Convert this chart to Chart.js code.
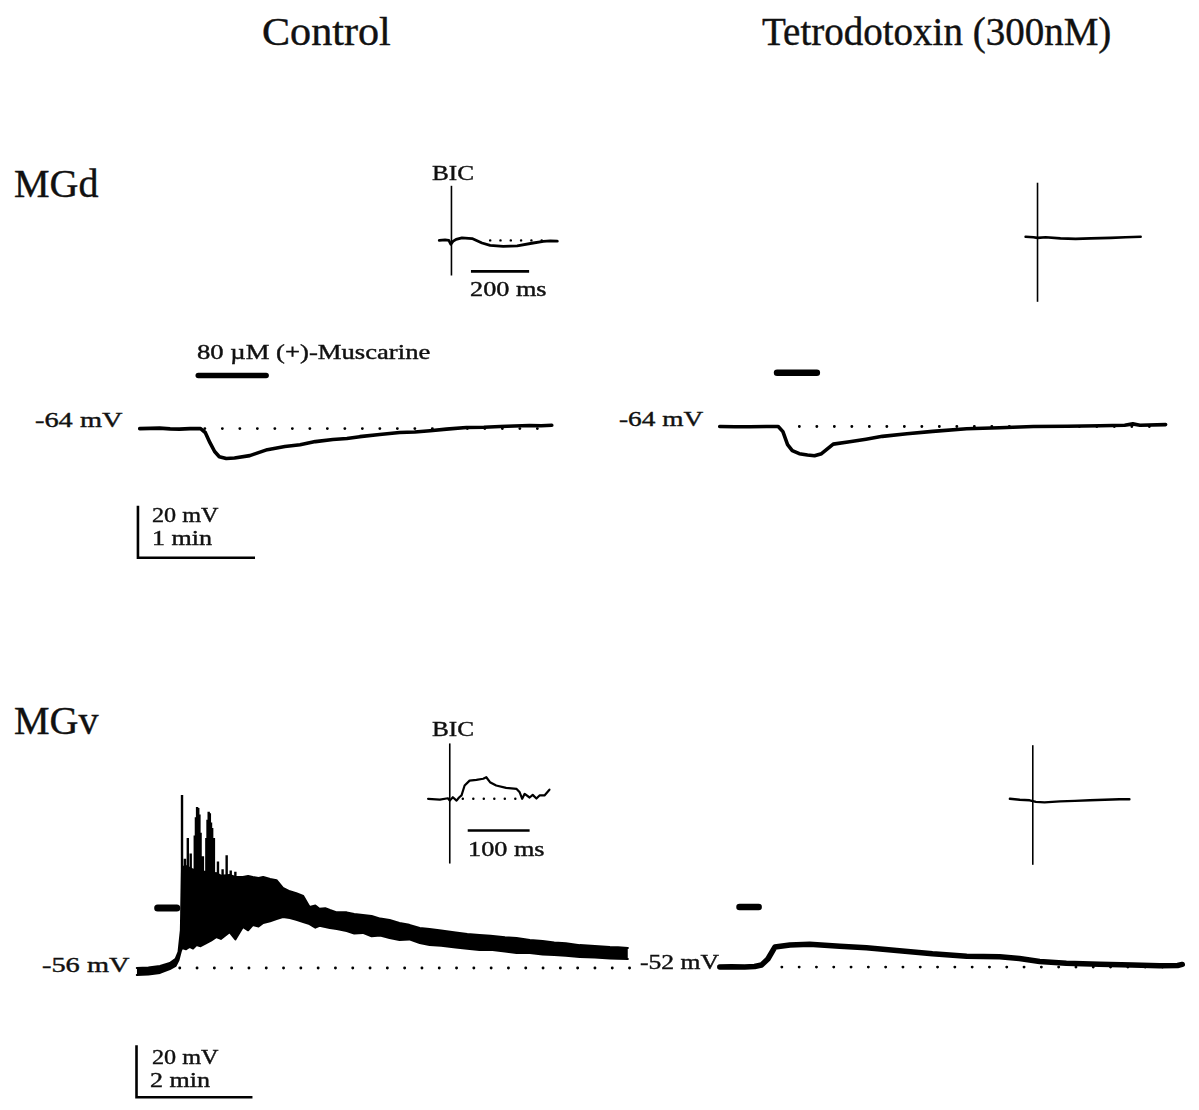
<!DOCTYPE html>
<html>
<head>
<meta charset="utf-8">
<script src="https://cdn.jsdelivr.net/npm/chart.js@4/dist/chart.umd.min.js"></script>
<style>
  html, body { margin: 0; background: #fff; }
  #fig { position: relative; width: 1199px; height: 1110px; overflow: hidden; }
  #fig canvas { position: absolute; }
  .lbl {
    position: absolute; white-space: nowrap; line-height: 1; color: #111;
    font-family: 'Liberation Serif', 'Times New Roman', serif; transform-origin: 0 0;
    -webkit-text-stroke: 0.4px #111;
  }
</style>
</head>
<body>
<div id="fig"></div>
<script>
// ---- recordings (time in min, membrane potential in mV) ----

// MGd, control
const mgdCtrlT  = [0, 0.09, 0.17, 0.26, 0.34, 0.43, 0.52, 0.56, 0.60, 0.64, 0.68, 0.74, 0.81, 0.94, 1.09, 1.24, 1.37, 1.50, 1.65, 1.77, 1.88, 2.05, 2.22, 2.35, 2.48, 2.62, 2.79, 2.94, 3.08, 3.20, 3.33, 3.43, 3.52];
const mgdCtrlVm = [-64.0, -63.9, -63.8, -64.1, -64.2, -64.0, -64.0, -65.5, -69.4, -72.8, -74.8, -75.5, -75.3, -74.4, -72.1, -70.9, -70.2, -69.0, -68.2, -67.8, -67.1, -66.3, -65.5, -65.3, -64.8, -64.2, -63.6, -63.5, -63.2, -63.0, -62.8, -62.9, -62.7];

// MGd, TTX
const mgdTtxT  = [0, 0.13, 0.26, 0.40, 0.50, 0.54, 0.58, 0.62, 0.68, 0.75, 0.81, 0.87, 0.97, 1.11, 1.25, 1.39, 1.60, 1.82, 2.11, 2.39, 2.68, 2.97, 3.25, 3.46, 3.53, 3.59, 3.81];
const mgdTtxVm = [-64.0, -64.1, -64.1, -64.0, -64.0, -66.0, -71.0, -73.3, -74.5, -75.0, -75.3, -74.5, -70.8, -69.9, -68.9, -67.8, -66.8, -65.9, -64.9, -64.5, -64.0, -63.9, -63.7, -63.5, -63.0, -63.5, -63.3];

// MGv, control: firing is drawn as the envelope of the trace plus the tallest spikes
const mgvCtrlT = [0, 0.2, 0.4, 0.57, 0.67, 0.72, 0.76, 0.78, 0.85, 0.91, 0.97, 1.03, 1.10, 1.20, 1.28, 1.37, 1.45, 1.60, 1.70, 1.83, 1.92, 2.00, 2.10, 2.18, 2.30, 2.41, 2.52, 2.64, 2.75, 2.87, 2.98, 3.08, 3.15, 3.25, 3.33, 3.45, 3.62, 3.75, 3.90, 4.05, 4.20, 4.36, 4.53, 4.70, 4.88, 5.05, 5.25, 5.50, 5.70, 5.91, 6.10, 6.35, 6.55, 6.78, 7.00, 7.20, 7.40, 7.64, 7.90, 8.16, 8.30, 8.47];
const mgvCtrlHi = [-56.0, -55.8, -55.2, -54.1, -52.5, -49.8, -41.4, -17.2, -16.8, -17.5, -18.2, -18.0, -18.9, -19.0, -19.8, -19.5, -20.5, -20.2, -21.0, -21.0, -20.6, -21.0, -21.4, -21.0, -21.8, -22.2, -25.2, -26.5, -27.2, -28.3, -32.5, -32.0, -33.2, -33.0, -33.7, -34.6, -34.6, -35.2, -35.6, -36.0, -37.0, -37.5, -38.7, -39.4, -40.6, -41.0, -41.6, -42.3, -42.9, -43.3, -43.6, -44.2, -44.5, -45.2, -45.6, -46.2, -46.5, -47.2, -47.5, -47.9, -48.0, -48.3];
const mgvCtrlLo = [-58.7, -58.5, -57.9, -56.4, -55.2, -52.9, -49.5, -48.3, -48.8, -47.9, -48.5, -47.2, -47.6, -46.4, -45.5, -44.1, -44.8, -42.2, -45.0, -40.2, -41.5, -39.5, -40.0, -38.7, -38.0, -37.2, -36.4, -36.8, -37.5, -38.3, -39.1, -40.5, -39.8, -40.2, -40.6, -41.0, -41.8, -42.7, -42.5, -43.8, -43.5, -44.5, -45.2, -45.0, -46.4, -47.2, -47.4, -48.1, -48.6, -49.1, -49.0, -49.7, -50.2, -50.2, -50.8, -51.0, -51.3, -51.8, -52.0, -52.3, -52.4, -52.5];
const mgvSpikeT    = [0.78, 0.83, 0.88, 0.93, 1.00, 1.02, 1.04, 1.06, 1.08, 1.10, 1.14, 1.20, 1.22, 1.24, 1.26, 1.28, 1.30, 1.33, 1.40, 1.48, 1.55, 1.62, 1.70];
const mgvSpikePeak = [10.5, -14.0, -6.0, -12.0, -5.0, 2.0, 5.9, 5.5, 3.0, -4.0, -13.0, -6.0, 1.0, 4.1, 3.5, 0.0, -2.2, -6.0, -15.0, -18.0, -12.6, -18.5, -19.0];

// MGv, TTX
const mgvTtxT  = [0, 0.2, 0.43, 0.6, 0.72, 0.83, 0.95, 1.21, 1.55, 2.07, 2.53, 3.10, 3.67, 4.26, 4.83, 5.17, 5.52, 5.98, 6.55, 7.12, 7.59, 7.90, 7.98];
const mgvTtxVm = [-52.0, -51.9, -52.0, -51.8, -51.2, -48.9, -44.3, -43.5, -43.2, -44.0, -44.6, -45.7, -46.9, -47.8, -48.0, -48.7, -49.9, -50.5, -50.9, -51.2, -51.5, -51.4, -51.0];

// muscarine application [start, end] in min
const mgdCtrlDrug = [0.50, 1.08];
const mgdTtxDrug  = [0.49, 0.83];
const mgvCtrlDrug = [0.36, 0.69];
const mgvTtxDrug  = [0.34, 0.67];

// ---- evoked responses (time in ms from stimulus, mV from baseline) ----
const mgdCtrlInT  = [-42, -22, -9, -2, 5, 16, 36, 71, 105, 133, 178, 226, 281, 316, 340, 364];
const mgdCtrlInVm = [0, 0.2, 0, -1.5, -0.4, 0.4, 1.0, 0.7, -1.0, -1.9, -2.3, -2.1, -1.0, -0.4, -0.2, -0.3];
const mgdTtxInT   = [-41, -14, 0, 28, 79, 131, 183, 252, 303, 355];
const mgdTtxInVm  = [0, -0.2, -0.4, -0.2, -0.6, -0.8, -0.6, -0.4, -0.2, 0];
const mgvCtrlInT  = [-35, -16, -3, 0, 5, 11, 15, 19, 24, 32, 43, 54, 59, 65, 75, 91, 108, 113, 117, 121, 129, 134, 140, 145, 153, 161];
const mgvCtrlInVm = [0, -0.3, 0.2, -0.7, 0.6, -0.7, 0.5, 1.3, 5.1, 7.0, 7.3, 7.7, 8.3, 6.4, 5.1, 4.2, 3.8, 2.5, 0, 1.9, 0.5, 1.5, 0.1, 1.3, 1.3, 3.5];
const mgvTtxInT   = [-37, -21, -5, 5, 19, 44, 68, 92, 116, 140, 156];
const mgvTtxInVm  = [0.4, 0, -0.2, -0.8, -1.0, -0.6, -0.4, -0.2, 0, 0.2, 0.2];
// stimulus artifact extent [min, max] mV
const mgdCtrlArt = [-13.5, 21];
const mgdTtxArt  = [-25, 20.8];
const mgvCtrlArt = [-24.9, 21.3];
const mgvTtxArt  = [-25, 21];

// ---- drawing ----
const INK = '#000';
const fig = document.getElementById('fig');

const pts = (xs, ys) => xs.map((x, i) => ({ x, y: ys[i] }));

function line(data, width, extra = {}) {
  return {
    data, borderColor: INK, borderWidth: width, pointRadius: 0, fill: false, tension: 0,
    borderCapStyle: 'round', borderJoinStyle: 'round', order: 1, ...extra,
  };
}

/** dotted resting level */
function dots(from, to, level, gap, size = 2.8) {
  return line([{ x: from, y: level }, { x: to, y: level }], size, { borderDash: [0.1, gap], order: 5 });
}

/** L-shaped calibration: vertical `mv`, horizontal `span`, corner at (x, y) */
function calib(x, y, mv, span) {
  return line([{ x, y: y + mv }, { x, y }, { x: x + span, y }], 2.6,
    { borderCapStyle: 'butt', borderJoinStyle: 'miter' });
}

/** one canvas per trace; the panel sets where its data range sits on the page */
function trace(p, datasets) {
  const w = Math.round((p.xMax - p.xMin) * p.pxX);
  const h = Math.round((p.yMax - p.yMin) * p.pxMv);
  const cv = document.createElement('canvas');
  cv.width = w; cv.height = h;
  cv.style.left = (p.x0 + p.xMin * p.pxX) + 'px';
  cv.style.top = (p.y0 - (p.yMax - p.ref) * p.pxMv) + 'px';
  fig.appendChild(cv);
  new Chart(cv, {
    type: 'line',
    data: { datasets },
    options: {
      responsive: false, animation: false, events: [],
      layout: { padding: 0 },
      plugins: { legend: { display: false }, tooltip: { enabled: false } },
      scales: {
        x: { type: 'linear', min: p.xMin, max: p.xMax, display: false },
        y: { type: 'linear', min: p.yMin, max: p.yMax, display: false },
      },
    },
  });
}

// MGd control
trace({ x0: 140, y0: 429, ref: -64, pxX: 117, pxMv: 2.6, xMin: -0.1, xMax: 3.65, yMin: -118, yMax: -38 }, [
  line(pts(mgdCtrlT, mgdCtrlVm), 3.6, { order: 0 }),
  dots(0.556, 3.52, -64, 17.4),
  line(pts(mgdCtrlDrug, [-43.6, -43.6]), 5.5),
  calib(-0.015, -113.7, 20, 1),
]);
// MGd TTX
trace({ x0: 720, y0: 426.7, ref: -64, pxX: 117, pxMv: 2.6, xMin: -0.1, xMax: 3.95, yMin: -80, yMax: -38 }, [
  line(pts(mgdTtxT, mgdTtxVm), 3.6, { order: 0 }),
  dots(0.68, 3.81, -64, 17.4),
  line(pts(mgdTtxDrug, [-43.3, -43.3]), 6.5),
]);

// MGv control
const spikes = [];
mgvSpikeT.forEach((t, i) => spikes.push({ x: t, y: -35 }, { x: t, y: mgvSpikePeak[i] }, { x: t, y: null }));
trace({ x0: 137, y0: 968, ref: -56, pxX: 58, pxMv: 2.6, xMin: -0.1, xMax: 8.8, yMin: -116, yMax: 14 }, [
  line(pts(mgvCtrlT, mgvCtrlHi), 2, { fill: '+1', backgroundColor: INK, order: 0 }),
  line(pts(mgvCtrlT, mgvCtrlLo), 2, { order: 0 }),
  line(spikes, 2.4, { borderCapStyle: 'butt', order: 0 }),
  dots(0.74, 8.67, -56, 17.2),
  line(pts(mgvCtrlDrug, [-32.9, -32.9]), 7),
  calib(-0.005, -105.7, 20, 2),
]);
// MGv TTX
trace({ x0: 720, y0: 967, ref: -52, pxX: 58, pxMv: 2.6, xMin: -0.1, xMax: 8.2, yMin: -57, yMax: -25 }, [
  line(pts(mgvTtxT, mgvTtxVm), 5.5, { order: 0 }),
  dots(1.07, 7.93, -52, 17.2),
  line(pts(mgvTtxDrug, [-28.9, -28.9]), 6.5),
]);

// evoked responses after bicuculline
const artifact = ([lo, hi]) => line([{ x: 0, y: lo }, { x: 0, y: hi }], 1.6, { borderCapStyle: 'butt' });

trace({ x0: 451.5, y0: 240, ref: 0, pxX: 0.29, pxMv: 2.6, xMin: -60, xMax: 380, yMin: -16, yMax: 24 }, [
  line(pts(mgdCtrlInT, mgdCtrlInVm), 2.8, { order: 0 }),
  artifact(mgdCtrlArt),
  dots(133, 316, 0, 10.2, 2.4),
  line([{ x: 67, y: -11.9 }, { x: 267, y: -11.9 }], 2.6, { borderCapStyle: 'butt' }),
]);
trace({ x0: 1037, y0: 237, ref: 0, pxX: 0.29, pxMv: 2.6, xMin: -50, xMax: 370, yMin: -27, yMax: 23 }, [
  line(pts(mgdTtxInT, mgdTtxInVm), 2.6, { order: 0 }),
  artifact(mgdTtxArt),
]);
trace({ x0: 450, y0: 798.3, ref: 0, pxX: 0.62, pxMv: 2.6, xMin: -40, xMax: 170, yMin: -27, yMax: 23 }, [
  line(pts(mgvCtrlInT, mgvCtrlInVm), 2.2, { order: 0 }),
  artifact(mgvCtrlArt),
  dots(21, 108, 0, 10.4, 2.4),
  line([{ x: 29, y: -12.2 }, { x: 129, y: -12.2 }], 2.6, { borderCapStyle: 'butt' }),
]);
trace({ x0: 1033, y0: 800, ref: 0, pxX: 0.62, pxMv: 2.6, xMin: -40, xMax: 165, yMin: -27, yMax: 23 }, [
  line(pts(mgvTtxInT, mgvTtxInVm), 2.4, { order: 0 }),
  artifact(mgvTtxArt),
]);

// text: [string, left, baseline, font size, horizontal stretch]
const texts = [
  ['Control', 262, 45, 39, 1.08],
  ['Tetrodotoxin (300nM)', 762, 45, 39, 1.0],
  ['MGd', 14, 198, 40, 1],
  ['MGv', 14, 735, 40, 1],
  ['BIC', 432, 181, 21, 1.2],
  ['200 ms', 470, 297, 21, 1.25],
  ['80 µM (+)-Muscarine', 197, 360, 21, 1.27],
  ['-64 mV', 35, 428, 21, 1.35],
  ['-64 mV', 619, 427, 21, 1.3],
  ['20 mV', 152, 523, 21, 1.15],
  ['1 min', 152, 546, 21, 1.24],
  ['BIC', 432, 737, 21, 1.2],
  ['100 ms', 468, 857, 21, 1.25],
  ['-56 mV', 42, 973, 21, 1.35],
  ['-52 mV', 640, 970, 21, 1.22],
  ['20 mV', 152, 1065, 21, 1.15],
  ['2 min', 150, 1088, 21, 1.24],
];
texts.forEach(([s, x, base, size, sx]) => {
  const d = document.createElement('div');
  d.className = 'lbl';
  d.textContent = s;
  d.style.fontSize = size + 'px';
  d.style.left = x + 'px';
  d.style.top = (base - 0.84 * size) + 'px';
  d.style.transform = `scaleX(${sx})`;
  fig.appendChild(d);
});
</script>
</body>
</html>
